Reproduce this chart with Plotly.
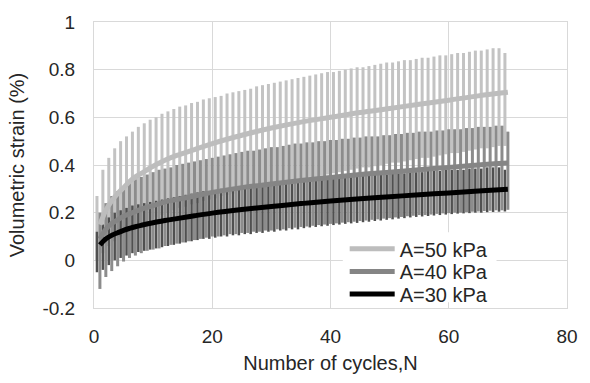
import plotly.graph_objects as go

# ---- data ----
mean_N = [1, 2, 3, 4, 5, 6, 7, 8, 10, 12, 14, 17, 20, 25, 30, 35, 40, 45, 50, 55, 60, 65, 70]
mean_50 = [0.15, 0.21, 0.25, 0.28, 0.305, 0.33, 0.35, 0.365, 0.395, 0.42, 0.44, 0.465, 0.49,
           0.525, 0.555, 0.58, 0.60, 0.62, 0.637, 0.655, 0.672, 0.69, 0.705]
mean_40 = [0.09, 0.13, 0.155, 0.17, 0.185, 0.195, 0.205, 0.215, 0.23, 0.245, 0.255, 0.27, 0.285,
           0.305, 0.32, 0.335, 0.348, 0.36, 0.37, 0.38, 0.39, 0.40, 0.408]
mean_30 = [0.065, 0.09, 0.105, 0.116, 0.126, 0.134, 0.141, 0.147, 0.158, 0.167, 0.175, 0.187, 0.198,
           0.213, 0.226, 0.238, 0.249, 0.258, 0.267, 0.275, 0.283, 0.291, 0.298]

cyc_a = [k + 0.5 for k in range(70)]   # cycle positions of A=50 and A=30 records
cyc_b = [k + 1.0 for k in range(70)]   # cycle positions of A=40 record

peak_50 = [0.27, 0.38, 0.43, 0.47, 0.50, 0.52, 0.54, 0.56, 0.575, 0.59,
           0.60, 0.615, 0.625, 0.635, 0.645, 0.65, 0.66, 0.665, 0.675, 0.68,
           0.685, 0.69, 0.70, 0.705, 0.71, 0.715, 0.72, 0.73, 0.735, 0.74,
           0.745, 0.75, 0.755, 0.76, 0.765, 0.77, 0.775, 0.78, 0.785, 0.79,
           0.79, 0.795, 0.80, 0.805, 0.81, 0.81, 0.815, 0.82, 0.825, 0.83,
           0.83, 0.835, 0.84, 0.84, 0.845, 0.85, 0.85, 0.855, 0.86, 0.86,
           0.865, 0.87, 0.87, 0.875, 0.88, 0.88, 0.885, 0.89, 0.89, 0.87]
trough_50 = [0.00, 0.03, 0.06, 0.08, 0.10, 0.12, 0.13, 0.145, 0.16, 0.17,
             0.18, 0.19, 0.20, 0.21, 0.22, 0.225, 0.235, 0.24, 0.25, 0.255,
             0.26, 0.27, 0.275, 0.28, 0.29, 0.295, 0.30, 0.305, 0.31, 0.315,
             0.32, 0.325, 0.33, 0.335, 0.34, 0.345, 0.35, 0.35, 0.355, 0.36,
             0.365, 0.37, 0.375, 0.38, 0.385, 0.39, 0.39, 0.395, 0.40, 0.405,
             0.41, 0.41, 0.415, 0.42, 0.425, 0.43, 0.43, 0.435, 0.44, 0.445,
             0.45, 0.45, 0.455, 0.46, 0.465, 0.47, 0.47, 0.475, 0.48, 0.48]

peak_40 = [0.20, 0.24, 0.27, 0.29, 0.31, 0.325, 0.34, 0.35, 0.36, 0.37,
           0.38, 0.385, 0.39, 0.40, 0.405, 0.41, 0.415, 0.42, 0.425, 0.43,
           0.435, 0.44, 0.445, 0.45, 0.455, 0.46, 0.46, 0.465, 0.47, 0.475,
           0.475, 0.48, 0.485, 0.49, 0.49, 0.495, 0.495, 0.50, 0.50, 0.505,
           0.505, 0.51, 0.51, 0.515, 0.515, 0.52, 0.52, 0.52, 0.525, 0.525,
           0.53, 0.53, 0.535, 0.535, 0.54, 0.54, 0.54, 0.545, 0.545, 0.55,
           0.55, 0.55, 0.555, 0.555, 0.56, 0.56, 0.56, 0.565, 0.565, 0.54]
trough_40 = [-0.12, -0.07, -0.045, -0.025, -0.005, 0.01, 0.02, 0.03, 0.04, 0.045,
             0.05, 0.06, 0.065, 0.07, 0.075, 0.08, 0.085, 0.09, 0.095, 0.10,
             0.10, 0.105, 0.11, 0.11, 0.115, 0.115, 0.12, 0.12, 0.125, 0.125,
             0.13, 0.13, 0.135, 0.137, 0.14, 0.142, 0.145, 0.148, 0.15, 0.153,
             0.155, 0.158, 0.16, 0.162, 0.165, 0.167, 0.17, 0.172, 0.175, 0.177,
             0.18, 0.182, 0.185, 0.187, 0.19, 0.19, 0.192, 0.195, 0.197, 0.198,
             0.20, 0.20, 0.202, 0.204, 0.205, 0.207, 0.208, 0.21, 0.21, 0.212]

peak_30 = [0.12, 0.15, 0.18, 0.20, 0.21, 0.22, 0.23, 0.235, 0.24, 0.245,
           0.25, 0.255, 0.26, 0.265, 0.27, 0.275, 0.28, 0.285, 0.29, 0.29,
           0.295, 0.30, 0.30, 0.305, 0.31, 0.31, 0.315, 0.315, 0.32, 0.32,
           0.325, 0.325, 0.33, 0.33, 0.335, 0.335, 0.34, 0.34, 0.34, 0.345,
           0.345, 0.35, 0.35, 0.35, 0.355, 0.355, 0.355, 0.36, 0.36, 0.36,
           0.365, 0.365, 0.365, 0.37, 0.37, 0.37, 0.375, 0.375, 0.375, 0.38,
           0.38, 0.38, 0.38, 0.385, 0.385, 0.385, 0.39, 0.39, 0.39, 0.38]
trough_30 = [-0.05, -0.04, -0.02, 0.0, 0.01, 0.02, 0.03, 0.035, 0.04, 0.045,
             0.05, 0.055, 0.06, 0.065, 0.07, 0.075, 0.08, 0.085, 0.09, 0.09,
             0.095, 0.10, 0.10, 0.105, 0.105, 0.11, 0.11, 0.115, 0.115, 0.12,
             0.12, 0.125, 0.125, 0.13, 0.13, 0.135, 0.138, 0.14, 0.143, 0.145,
             0.148, 0.15, 0.153, 0.155, 0.157, 0.16, 0.162, 0.165, 0.167, 0.17,
             0.172, 0.175, 0.177, 0.18, 0.182, 0.184, 0.186, 0.188, 0.19, 0.192,
             0.194, 0.196, 0.197, 0.198, 0.20, 0.20, 0.202, 0.203, 0.204, 0.205]

labels = ["A=50 kPa", "A=40 kPa", "A=30 kPa"]
x_ticks = [0, 20, 40, 60, 80]
y_ticks = [-0.2, 0, 0.2, 0.4, 0.6, 0.8, 1]
y_ticktext = ["-0.2", "0", "0.2", "0.4", "0.6", "0.8", "1"]

FONT = "Liberation Sans, Arial, sans-serif"
TXT = "#262626"


def strokes(xs, lo, hi):
    X, Y = [], []
    for x, a, b in zip(xs, lo, hi):
        X += [x, x, None]
        Y += [a, b, None]
    return X, Y


fig = go.Figure()
for xs, lo, hi, col, w in [(cyc_a, trough_50, peak_50, "#c3c3c3", 3),
                           (cyc_a, trough_30, peak_30, "#505050", 2.5),
                           (cyc_b, trough_40, peak_40, "#8c8c8c", 3)]:
    X, Y = strokes(xs, lo, hi)
    fig.add_trace(go.Scatter(x=X, y=Y, mode="lines", line=dict(color=col, width=w),
                             showlegend=False, hoverinfo="skip", connectgaps=False))

legend_ids = ["legend", "legend2", "legend3"]
for ys, col, name, lg in [(mean_50, "#bdbdbd", labels[0], legend_ids[0]),
                          (mean_40, "#858585", labels[1], legend_ids[1]),
                          (mean_30, "#000000", labels[2], legend_ids[2])]:
    fig.add_trace(go.Scatter(x=mean_N, y=ys, mode="lines", name=name, legend=lg,
                             line=dict(color=col, width=5, shape="spline")))

leg_common = dict(x=0.53, xanchor="left", yanchor="top", bgcolor="rgba(0,0,0,0)",
                  font=dict(family=FONT, size=20, color=TXT), itemwidth=45)

fig.update_layout(
    width=590, height=383,
    margin=dict(l=94, r=19, t=16, b=69),
    paper_bgcolor="white", plot_bgcolor="white",
    font=dict(family=FONT, size=19, color=TXT),
    showlegend=True,
    legend=dict(y=0.275, **leg_common),
    legend2=dict(y=0.196, **leg_common),
    legend3=dict(y=0.117, **leg_common),
    # white backdrop behind the (transparent) legends
    shapes=[dict(type="rect", xref="paper", yref="paper", x0=0.526, x1=0.851,
                 y0=0.02, y1=0.265, fillcolor="white", line=dict(width=0), layer="above")],
    annotations=[dict(text="(a)", x=0.312, y=1, xref="paper", yref="paper",
                      xanchor="center", yanchor="bottom", yshift=21, showarrow=False,
                      font=dict(family=FONT, size=19, color="#595959"))],
)
fig.update_xaxes(range=[0, 80], tickvals=x_ticks, showgrid=True, gridcolor="#d9d9d9",
                 gridwidth=1, zeroline=False, showline=True, linecolor="#d9d9d9",
                 mirror=True, ticks="", ticklabelstandoff=11,
                 tickfont=dict(family=FONT, size=19, color=TXT))
fig.update_xaxes(title_text="Number of cycles,N", title_standoff=10,
                 title_font=dict(family=FONT, size=20, color=TXT))
fig.update_yaxes(range=[-0.2, 1], tickvals=y_ticks, ticktext=y_ticktext, showgrid=True,
                 gridcolor="#d9d9d9", gridwidth=1, zeroline=False, showline=True,
                 linecolor="#d9d9d9", mirror=True, ticks="", ticklabelstandoff=14,
                 tickfont=dict(family=FONT, size=19, color=TXT))
fig.update_yaxes(title_text="Volumetric strain (%)", title_standoff=12,
                 title_font=dict(family=FONT, size=20, color=TXT))

fig.write_html("out.html")
